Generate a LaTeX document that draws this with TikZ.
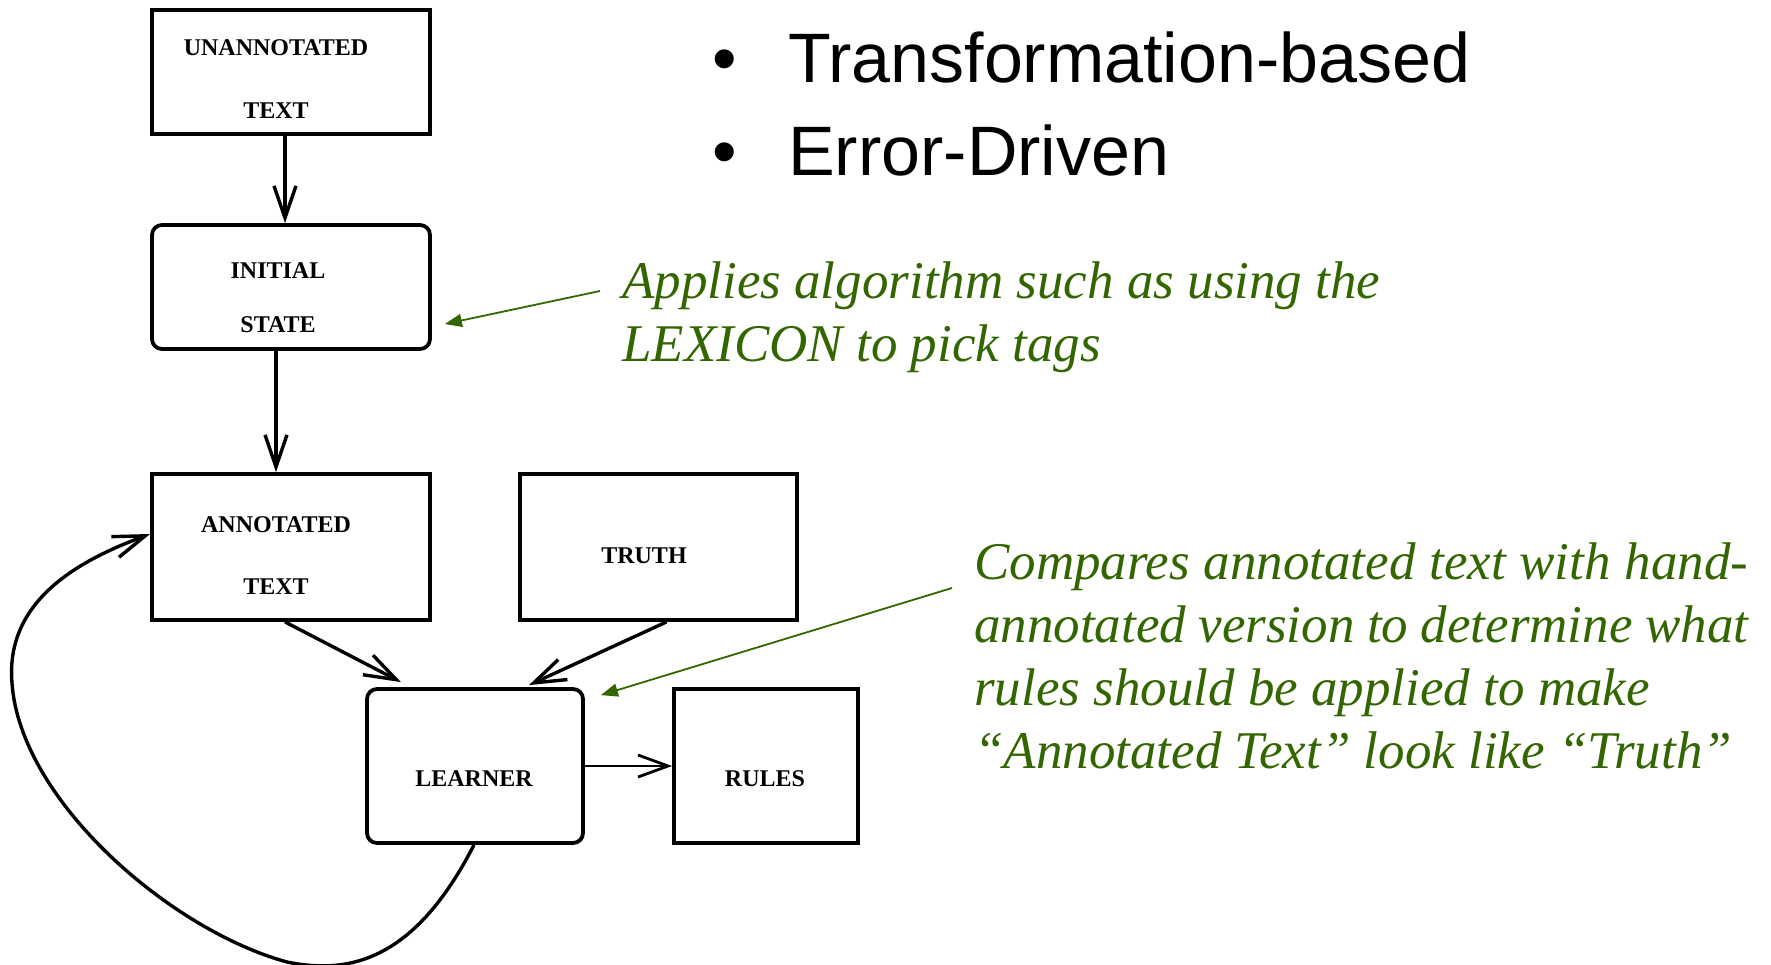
\documentclass[tikz,border=0pt]{standalone}
\usepackage{fontspec}
\newfontfamily\sansf{Liberation Sans}
\newfontfamily\boxf{Liberation Serif}
\newfontfamily\notef{Liberation Serif}
\usetikzlibrary{arrows.meta}
\definecolor{note}{RGB}{51,102,0}
\tikzset{
  box/.style={draw, line width=3.8pt, inner sep=0pt},
  rbox/.style={box, rounded corners=10pt},
  lbl/.style={font=\boxf\bfseries\fontsize{24}{63}\selectfont, align=center, inner sep=0pt},
  arr/.style={line width=3.4pt, -{Straight Barb[length=32pt,width=22pt,line width=3.4pt]}},
  thinarr/.style={line width=2.4pt, -{Straight Barb[length=30pt,width=22pt,line width=2.8pt]}},
  garr/.style={note, line width=1.8pt, -{Triangle[length=17pt,width=13pt]}},
  bul/.style={font=\sansf\fontsize{70}{84}\selectfont, inner sep=0pt, anchor=base west},
  gnote/.style={font=\notef\itshape\fontsize{53}{63}\selectfont, text=note, align=left, inner sep=0pt, anchor=base west}
}
\begin{document}
\begin{tikzpicture}[x=1pt,y=-1pt]
\useasboundingbox (0,0) rectangle (1771,964);
% boxes
\node[box,  minimum width=278pt, minimum height=124pt] (u) at (291,72) {};
\node[rbox, minimum width=278pt, minimum height=124pt] (i) at (291,287) {};
\node[box,  minimum width=278pt, minimum height=146pt] (a) at (291,547) {};
\node[box,  minimum width=277pt, minimum height=146pt] (t) at (658.5,547) {};
\node[rbox, minimum width=216pt, minimum height=154pt] (l) at (475,766) {};
\node[box,  minimum width=184pt, minimum height=154pt] (r) at (766,766) {};
% labels
\node[lbl] (ul) at (276,79) {UNANNOTATED\\TEXT};
\node[lbl, font=\boxf\bfseries\fontsize{24}{54}\selectfont] (il) at (278,298) {INITIAL\\STATE};
\node[lbl, font=\boxf\bfseries\fontsize{24}{62}\selectfont] (al) at (276,556) {ANNOTATED\\TEXT};
\node[lbl] (tl) at (644,556) {TRUTH};
\node[lbl] (ll) at (474,779) {LEARNER};
\node[lbl] (rl) at (765,779) {RULES};
% connectors
\draw[arr] ([xshift=-6pt]u.south) -- ([xshift=-6pt]i.north);
\draw[arr] ([xshift=-15pt]i.south) -- ([xshift=-15pt]a.north);
\draw[arr] ([xshift=-6pt]a.south) -- ([xshift=-74pt,yshift=5pt]l.north);
\draw[arr] ([xshift=8pt]t.south) -- ([xshift=54pt,yshift=2pt]l.north);
\draw[thinarr] (l.east) -- (r.west);
\draw[arr] ([xshift=-1pt]l.south) .. controls (415,960) and (350,975) .. (287,962)
   .. controls (170,930) and (20,800) .. (12,683)
   .. controls (5,600) and (80,560) .. ([yshift=13pt]a.west);
% bullets
\node[bul] (b1) at (712,82) {•};
\node[bul] (t1) at (788,82) {Transformation-based};
\node[bul] (b2) at (712,175) {•};
\node[bul] (t2) at (788,175) {Error-Driven};
% notes (base anchor = last line)
\node[gnote] (n1) at (622,361) {Applies algorithm such as using the\\LEXICON to pick tags};
\node[gnote] (n2) at (974,768) {\makebox[774pt][s]{Compares annotated text with hand-}\\
  \makebox[774pt][s]{annotated version to determine what}\\
  rules should be applied to make\\
  “Annotated Text” look like “Truth”};
\coordinate (n1s) at (600,291);
\coordinate (n2s) at (952,588);
\draw[garr] (n1s) -- ([xshift=13pt,yshift=-37pt]i.east);
\draw[garr] (n2s) -- ([xshift=16pt,yshift=-8pt]l.north east);
\end{tikzpicture}
\end{document}
